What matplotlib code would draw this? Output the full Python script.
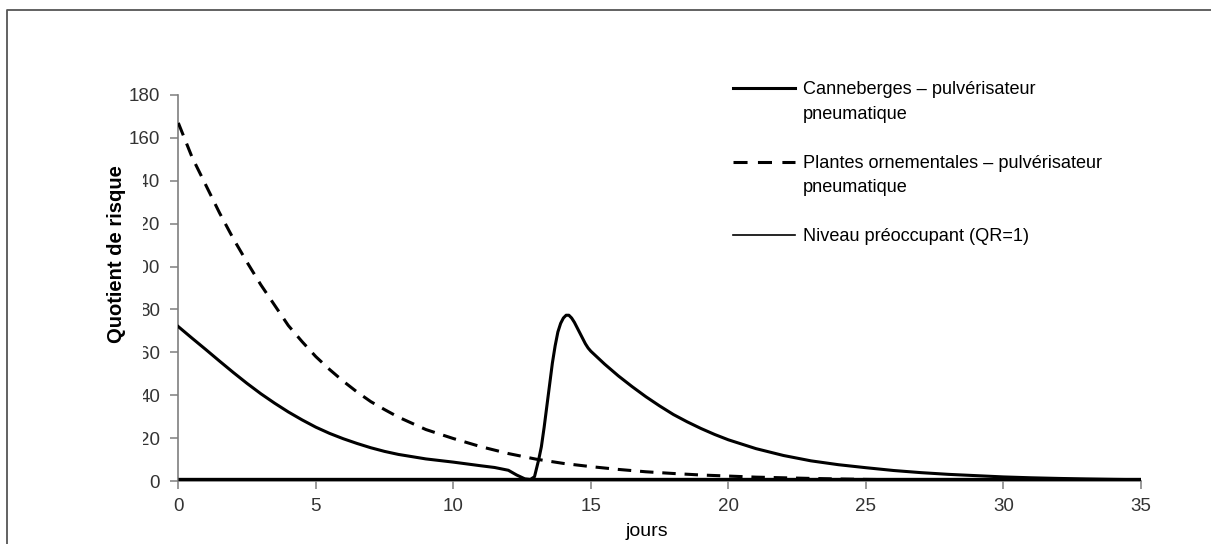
import matplotlib
matplotlib.use('Agg')
import matplotlib.pyplot as plt
from matplotlib.lines import Line2D
from matplotlib.patches import Rectangle

plt.rcParams['font.family'] = ['Liberation Sans', 'DejaVu Sans']

# Canneberges - pulvérisateur pneumatique (second application around day 13)
days_cran = [0, 0.5, 1, 1.5, 2, 2.5, 3, 3.5, 4, 4.5, 5, 5.5, 6, 6.5, 7, 7.5,
             8, 9, 10, 11, 11.5, 12, 12.3, 12.6, 12.8, 12.95, 13.1, 13.2, 13.3,
             13.4, 13.5, 13.6, 13.7, 13.8, 13.9, 14.0, 14.1, 14.2, 14.3, 14.4,
             14.5, 14.6, 14.7, 14.8, 14.9, 15.0, 15.5, 16, 16.5, 17, 17.5, 18,
             18.5, 19, 19.5, 20, 21, 22, 23, 24, 25, 26, 27, 28, 29, 30, 31,
             32, 33, 34, 35]
qr_cran = [72, 66.6, 61.3, 55.9, 50.6, 45.5, 40.7, 36.3, 32.2, 28.5, 25.1,
           22.2, 19.7, 17.5, 15.5, 13.8, 12.4, 10.3, 8.8, 7.1, 6.3, 5.0, 2.8,
           1.0, 0.7, 2.0, 9.8, 16, 25, 35, 45, 55, 63, 69.5, 73.5, 76, 77.3,
           77.3, 76, 74, 71.5, 69, 66.5, 64, 62, 60.5, 54.5, 49, 44, 39.3, 35,
           31, 27.6, 24.5, 21.7, 19.2, 15.1, 11.9, 9.4, 7.6, 6.2, 4.9, 3.9,
           3.1, 2.5, 1.9, 1.5, 1.2, 0.95, 0.75, 0.6]

# Plantes ornementales - pulvérisateur pneumatique
days_orn = [0, 0.5, 1, 1.5, 2, 2.5, 3, 3.5, 4, 4.5, 5, 5.5, 6, 6.5, 7, 7.5, 8,
            9, 10, 11, 12, 13, 14, 15, 16, 17, 18, 19, 20, 21, 22, 23, 24, 25,
            26, 27, 28, 29, 30, 31, 32, 33, 34, 35]
qr_orn = [167, 151, 138, 125, 113, 102, 91.5, 82, 72.5, 65, 58, 52, 46.5, 41.5,
          37, 33.3, 29.8, 24, 19.8, 16, 12.8, 10.2, 8.2, 6.7, 5.4, 4.3, 3.5,
          2.8, 2.3, 1.8, 1.5, 1.2, 0.95, 0.75, 0.6, 0.5, 0.4, 0.3, 0.25, 0.2,
          0.15, 0.12, 0.1, 0.1]

# level of concern
qr_level = 1
xmax = 35

labels = [['Canneberges \u2013 pulvérisateur', 'pneumatique'],
          ['Plantes ornementales \u2013 pulvérisateur', 'pneumatique'],
          ['Niveau préoccupant (QR=1)']]

W, H = 1211, 544
fig = plt.figure(figsize=(W / 100, H / 100), dpi=100)


def fx(px):
    return px / W


def fy(py):
    return 1 - py / H


ax = fig.add_axes([fx(178.3), fy(481), fx(1141) - fx(178.3), fy(95) - fy(481)])

lw = 2.2
ax.plot(days_cran, qr_cran, color='black', lw=lw, solid_joinstyle='round',
        zorder=4)
ax.plot(days_orn, qr_orn, color='black', lw=lw, linestyle=(0, (4.4, 2.9)),
        zorder=3)
ax.plot([0, xmax], [qr_level, qr_level], color='black', lw=2.4, zorder=5,
        solid_capstyle='butt')

ax.set_xlim(0, 35)
ax.set_ylim(0, 180)
ax.set_xticks(range(0, 36, 5))
ax.set_yticks(range(0, 181, 20))
for s in ['top', 'right']:
    ax.spines[s].set_visible(False)
for s in ['left', 'bottom']:
    ax.spines[s].set_color('#7f7f7f')
    ax.spines[s].set_linewidth(1.2)
ax.tick_params(axis='both', direction='out', length=6, width=1.1,
               color='#7f7f7f', labelsize=13.5, labelcolor='#333333')
ax.tick_params(axis='y', pad=7)
ax.tick_params(axis='x', pad=6)

# white box behind the y label, over the tick labels
fig.patches.append(Rectangle((fx(100), fy(452)), fx(143) - fx(100),
                             fy(165) - fy(452), transform=fig.transFigure,
                             facecolor='white', edgecolor='none', zorder=2))
fig.text(fx(116), fy(254), 'Quotient de risque', rotation=90, ha='center',
         va='center', fontsize=14.5, fontweight='bold', zorder=3)
fig.text(fx(647), fy(532), 'jours', ha='center', va='center', fontsize=14)

# legend drawn by hand so the handle sits on the first text line
rows = [88, 161.5, 235]
styles = [dict(lw=lw, linestyle='-'),
          dict(lw=lw, linestyle=(0, (4.6, 3.4))),
          dict(lw=1.2, linestyle='-')]
for y, st, lines in zip(rows, styles, labels):
    fig.add_artist(Line2D([fx(733), fx(795)], [fy(y), fy(y)], color='black',
                          transform=fig.transFigure, **st))
    for i, line in enumerate(lines):
        fig.text(fx(803), fy(y + 6 + 25 * i), line, ha='left', va='baseline',
                 fontsize=13.1)

# outer frame (left and top edges)
fig.add_artist(Line2D([fx(7), fx(7), fx(W)], [0, fy(10), fy(10)],
                      color='#555555', lw=1.3, transform=fig.transFigure))

fig.savefig('out.png', dpi=100)
